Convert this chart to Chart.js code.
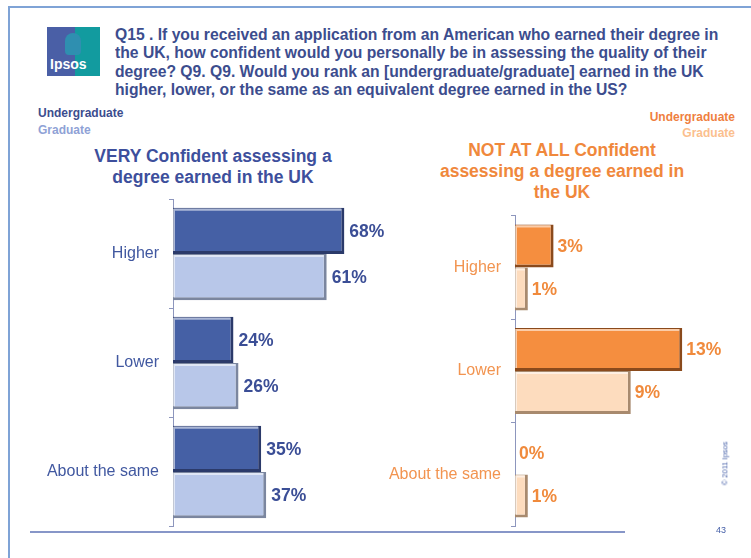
<!DOCTYPE html>
<html>
<head>
<meta charset="utf-8">
<script src="https://cdn.jsdelivr.net/npm/chart.js@4"></script>
<style>
  body { margin: 0; background: #fff; font-family: "Liberation Sans", Arial, sans-serif; }
  #page { position: relative; width: 751px; height: 558px; overflow: hidden; }
  .frameTop { position: absolute; left: 8px; top: 6px; width: 743px; height: 2px; background: #7fa3d6; }
  .frameLeft { position: absolute; left: 8px; top: 6px; width: 2px; height: 552px; background: #7fa3d6; }
  #logo { position: absolute; left: 47px; top: 27px; width: 53px; height: 49px;
    background: linear-gradient(90deg, #4a5fa6 0%, #4a5fa6 52%, #129b9f 52%, #129b9f 100%); }
  #logo span { position: absolute; left: 3px; bottom: 4px; color: #fff; font-weight: bold; font-size: 14px; }
  #logo i { position: absolute; left: 18px; top: 6px; width: 16px; height: 22px; border-radius: 8px 8px 4px 4px; background: #2f8fb0; }
  #question { position: absolute; left: 115px; top: 26px; width: 640px; color: #3c4d8e; font-weight: bold;
    font-size: 16px; line-height: 18.3px; white-space: nowrap; transform-origin: 0 0; transform: scaleX(0.98); }
  .leg { position: absolute; font-weight: bold; font-size: 12px; }
  .ctitle { position: absolute; font-weight: bold; font-size: 17.5px; line-height: 21px; text-align: center; }
  canvas { position: absolute; }
  #footLine { position: absolute; left: 30px; top: 531px; width: 595px; height: 2px; background: #8796c8; }
  #pageNo { position: absolute; left: 716px; top: 525px; font-size: 9px; color: #4660a8; }
  #copy { position: absolute; left: 703px; top: 459px; font-size: 7.5px; color: #4660a8; transform: rotate(-90deg); white-space: nowrap; }
</style>
</head>
<body>
<div id="page">
  <div class="frameTop"></div>
  <div class="frameLeft"></div>
  <div id="logo"><i></i><span>Ipsos</span></div>
  <div id="question">Q15 . If you received an application from an American who earned their degree in<br>the UK, how confident would you personally be in assessing the quality of their<br>degree? Q9. Q9. Would you rank an [undergraduate/graduate] earned in the UK<br>higher, lower, or the same as an equivalent degree earned in the US?</div>

  <div class="leg" style="left:38px; top:106px; color:#3c4d8e;">Undergraduate</div>
  <div class="leg" style="left:38px; top:123px; color:#8fa2d6;">Graduate</div>
  <div class="leg" style="right:16px; top:110px; color:#ef7f3f; text-align:right;">Undergraduate</div>
  <div class="leg" style="right:16px; top:126px; color:#fbbf8e; text-align:right;">Graduate</div>

  <div class="ctitle" style="left:63px; top:146px; width:300px; color:#3d4f9c;">VERY Confident assessing a<br>degree earned in the UK</div>
  <div class="ctitle" style="left:412px; top:140px; width:300px; color:#f0883c;">NOT AT ALL Confident<br>assessing a degree earned in<br>the UK</div>

  <canvas id="veryChart" width="440" height="366" style="left:0; top:180px; width:440px; height:366px;"></canvas>
  <canvas id="notChart" width="381" height="350" style="left:370px; top:196px; width:381px; height:350px;"></canvas>

  <div id="footLine"></div>
  <div id="pageNo">43</div>
  <div id="copy">© 2011 Ipsos</div>
</div>

<script>
const categories = ["Higher", "Lower", "About the same"];
const seriesNames = ["Undergraduate", "Graduate"];

// VERY confident
const veryUndergrad = [68, 24, 35];
const veryGrad = [61, 26, 37];

// NOT AT ALL confident
const notUndergrad = [3, 13, 0];
const notGrad = [1, 9, 1];

// draws the "xx%" next to each bar
const valueLabels = {
  id: "valueLabels",
  afterDatasetsDraw(chart, args, opts) {
    const ctx = chart.ctx;
    ctx.save();
    ctx.font = "bold 17.5px 'Liberation Sans', Arial, sans-serif";
    ctx.fillStyle = opts.color;
    ctx.textBaseline = "middle";
    ctx.textAlign = "left";
    chart.data.datasets.forEach((ds, i) => {
      chart.getDatasetMeta(i).data.forEach((bar, j) => {
        ctx.fillText(ds.data[j] + "%", bar.x + opts.offset, bar.y + 1);
      });
    });
    ctx.restore();
  }
};

// light edge on top/left of every bar for the bevel look
const bevel = {
  id: "bevel",
  afterDatasetsDraw(chart) {
    const ctx = chart.ctx;
    ctx.save();
    ctx.strokeStyle = "rgba(255,255,255,0.55)";
    ctx.lineWidth = 2;
    chart.data.datasets.forEach((ds, i) => {
      chart.getDatasetMeta(i).data.forEach((bar) => {
        const left = bar.base, right = bar.x, top = bar.y - bar.height / 2, bottom = bar.y + bar.height / 2;
        if (right - left < 3) return;
        ctx.beginPath();
        ctx.moveTo(left + 1, bottom - 3);
        ctx.lineTo(left + 1, top + 2);
        ctx.lineTo(right - 3, top + 2);
        ctx.stroke();
      });
    });
    ctx.restore();
  }
};

function makeChart(id, ug, gr, cfg) {
  return new Chart(document.getElementById(id), {
    type: "bar",
    data: {
      labels: categories,
      datasets: [
        { label: seriesNames[0], data: ug, backgroundColor: cfg.colors[0], borderColor: cfg.borders[0] },
        { label: seriesNames[1], data: gr, backgroundColor: cfg.colors[1], borderColor: cfg.borders[1] }
      ]
    },
    options: {
      indexAxis: "y",
      responsive: false,
      animation: false,
      categoryPercentage: cfg.catPct,
      barPercentage: 1,
      datasets: {
        bar: {
          borderSkipped: false,
          borderWidth: { top: 1, left: 1, right: 3, bottom: 3 }
        }
      },
      layout: { padding: cfg.padding },
      scales: {
        x: { display: false, min: 0, max: cfg.xMax },
        y: {
          afterFit: (scale) => { scale.width = cfg.axisWidth; },
          border: { display: true, color: "#8d96bd", width: 1 },
          grid: { drawOnChartArea: false, drawTicks: true, tickLength: 4, color: "#8d96bd", offset: true },
          ticks: {
            color: cfg.labelColor,
            padding: 10,
            font: { family: "'Liberation Sans', Arial, sans-serif", size: 16 }
          }
        }
      },
      plugins: {
        legend: { display: false },
        tooltip: { enabled: false },
        valueLabels: { color: cfg.valueColor, offset: cfg.offset }
      }
    },
    plugins: [bevel, valueLabels]
  });
}

makeChart("veryChart", veryUndergrad, veryGrad, {
  colors: ["#4560a5", "#b8c7e9"],
  borders: ["#2b3a6a", "#7b869f"],
  catPct: 0.85,
  padding: { top: 7, bottom: 7, left: 0, right: 15 },
  xMax: 100,
  axisWidth: 173,
  labelColor: "#4158a0",
  valueColor: "#3b4e96",
  offset: 5
});

makeChart("notChart", notUndergrad, notGrad, {
  colors: ["#f58e3f", "#fddcbe"],
  borders: ["#8a4a1c", "#a88a6e"],
  catPct: 0.83,
  padding: { top: 13, bottom: 7, left: 0, right: 43 },
  xMax: 15,
  axisWidth: 145,
  labelColor: "#f29450",
  valueColor: "#f08a3c",
  offset: 4
});
</script>
</body>
</html>
